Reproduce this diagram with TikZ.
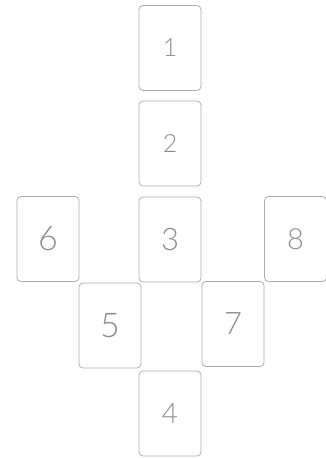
\documentclass[tikz,border=0pt]{standalone}
\usepackage{fontspec}
\newfontfamily\thinfont{Lato Light}
\begin{document}
\begin{tikzpicture}[x=1pt,y=-1pt,
  card/.style={draw=black!32, line width=0.8pt, rounded corners=4pt, minimum width=62pt, minimum height=85pt, inner sep=0pt,
    text=black!45, font=\thinfont\fontsize{25}{25}\selectfont},
  fs/.style={font=\thinfont\fontsize{#1}{#1}\selectfont}]
\useasboundingbox (0,0) rectangle (326,458);
\node[card,fs=25] (c1) at (170,48) {1};
\node[card,fs=25] (c2) at (170,143.5) {2};
\node[card,fs=31] (c3) at (170,239.5) {3};
\node[card,fs=34] (c6) at (48,239) {6};
\node[card,fs=29] (c8) at (295.5,239) {8};
\node[card,fs=34] (c5) at (110,325.5) {5};
\node[card,fs=31] (c7) at (233,324) {7};
\node[card,fs=28] (c4) at (170,413.5) {4};
\end{tikzpicture}
\end{document}
